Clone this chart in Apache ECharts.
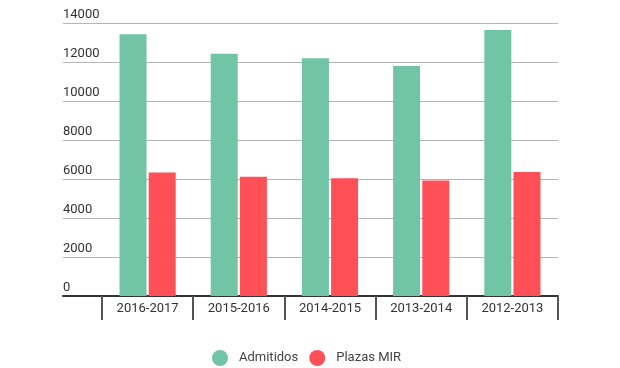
<!DOCTYPE html>
<html>
<head>
<meta charset="utf-8">
<script src="https://cdn.jsdelivr.net/npm/echarts@6/dist/echarts.min.js"></script>
<style>html,body{margin:0;padding:0;background:#fff}#c{width:620px;height:368px}</style>
</head>
<body>
<div id="c"></div>
<script>
var categories = ['2016-2017', '2015-2016', '2014-2015', '2013-2014', '2012-2013'];
var admitidos = [13420, 12420, 12190, 11800, 13640];
var plazasMIR = [6330, 6120, 6040, 5920, 6360];
var yTicks = { min: 0, max: 14000, interval: 2000 };

var chart = echarts.init(document.getElementById('c'), null, { renderer: 'canvas' });
var font = 'Roboto';
chart.setOption({
  animation: false,
  textStyle: { fontFamily: font },
  legend: {
    data: ['Admitidos', 'Plazas MIR'],
    left: 207, top: 345,
    icon: 'circle', itemWidth: 16, itemHeight: 16, itemGap: 11,
    textStyle: { fontFamily: font, fontSize: 13, color: '#444', padding: [0, 0, 0, 6] }
  },
  grid: [
    { left: 63, right: 62, top: 23, bottom: 72, containLabel: false },
    { left: 102, right: 62, top: 23, bottom: 72, containLabel: false }
  ],
  xAxis: [
    { gridIndex: 0, type: 'value', min: 0, max: 1,
      axisLine: { show: true, onZero: false, lineStyle: { color: '#333', width: 2 } },
      axisTick: { show: false }, axisLabel: { show: false }, splitLine: { show: false } },
    { gridIndex: 1, type: 'category', data: categories,
      axisLine: { show: false },
      axisTick: { show: true, length: 24, lineStyle: { color: '#555', width: 2 } },
      axisLabel: { color: '#333', fontSize: 13, fontFamily: font, margin: 6 } }
  ],
  yAxis: [
    { gridIndex: 0, type: 'value', min: yTicks.min, max: yTicks.max, interval: yTicks.interval,
      axisLine: { show: false }, axisTick: { show: false },
      axisLabel: { inside: true, margin: 0, verticalAlign: 'bottom', padding: [0, 0, 2, 0],
        color: '#333', fontSize: 13, fontFamily: font,
        formatter: function (v) { return String(v); } },
      splitLine: { lineStyle: { color: '#b5b5b5', width: 1 } } },
    { gridIndex: 1, type: 'value', min: yTicks.min, max: yTicks.max, interval: yTicks.interval,
      show: false, splitLine: { show: false } }
  ],
  series: [
    { name: 'Admitidos', type: 'bar', xAxisIndex: 1, yAxisIndex: 1, data: admitidos,
      barWidth: 27, barGap: '8%', itemStyle: { color: '#71c4a5' } },
    { name: 'Plazas MIR', type: 'bar', xAxisIndex: 1, yAxisIndex: 1, data: plazasMIR,
      barWidth: 27, barGap: '8%', itemStyle: { color: '#ff5057' } }
  ]
});
</script>
</body>
</html>
